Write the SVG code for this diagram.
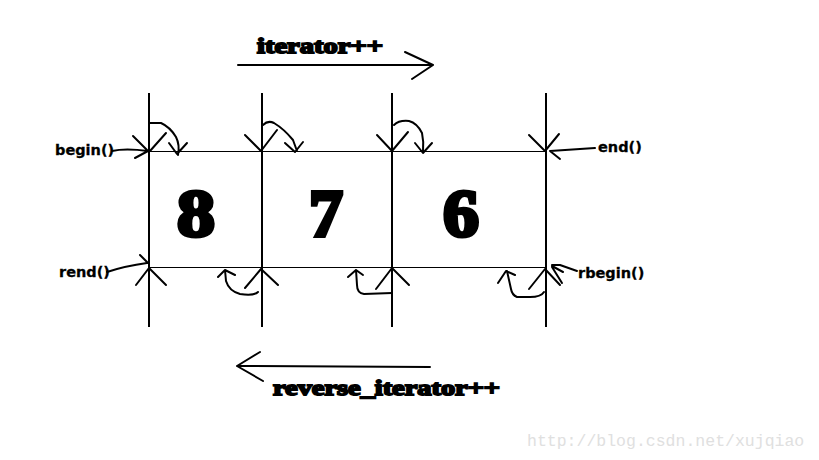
<svg xmlns="http://www.w3.org/2000/svg" width="819" height="460" viewBox="0 0 819 460">
<style>
.v{stroke:#000;stroke-width:2;fill:none}
.h{stroke:#000;stroke-width:1;fill:none}
.hd{stroke:#000;stroke-width:2;fill:none;stroke-linecap:round;stroke-linejoin:round}
.lbl{font-family:"DejaVu Sans",sans-serif;font-weight:bold;font-size:14.5px;fill:#000;stroke:#000;stroke-width:0.3}
.fat{font-family:"Liberation Serif",serif;font-weight:bold;fill:#000;stroke:#000}
.dig{font-family:"Liberation Serif",serif;font-weight:bold;font-size:68px;fill:#000;stroke:#000;stroke-width:4;text-anchor:middle}
.wm{font-family:"Liberation Mono",monospace;font-size:16.5px;fill:#e0e0e0}
</style>
<rect width="819" height="460" fill="#fff"/>
<g id="grid">
<line class="v" x1="149" y1="93" x2="149" y2="327"/>
<line class="v" x1="262" y1="93" x2="262" y2="327"/>
<line class="v" x1="392" y1="93" x2="392" y2="327"/>
<line class="v" x1="546" y1="93" x2="546" y2="327"/>
<line class="h" x1="149" y1="151.5" x2="546" y2="151.5"/>
<line class="h" x1="149" y1="267.5" x2="546" y2="267.5"/>
</g>
<g id="cell-8"><text class="dig" x="196" y="236" textLength="38" lengthAdjust="spacingAndGlyphs">8</text></g>
<g id="cell-7"><text class="dig" x="326" y="236">7</text></g>
<g id="cell-6"><text class="dig" x="461" y="236" textLength="36" lengthAdjust="spacingAndGlyphs">6</text></g>
<g id="label-iterator">
<text class="fat" x="257" y="53" font-size="22" stroke-width="1.8" textLength="126" lengthAdjust="spacingAndGlyphs">iterator++</text>
</g>
<g id="label-reverse">
<text class="fat" x="273" y="395" font-size="22" stroke-width="1.8" textLength="227" lengthAdjust="spacingAndGlyphs">reverse_iterator++</text>
</g>
<g id="label-begin"><text class="lbl" x="55" y="155">begin()</text></g>
<g id="label-end"><text class="lbl" x="598" y="152">end()</text></g>
<g id="label-rend"><text class="lbl" x="59" y="277">rend()</text></g>
<g id="label-rbegin"><text class="lbl" x="578" y="278">rbegin()</text></g>
<g id="watermark"><text class="wm" x="527" y="446">http://blog.csdn.net/xujqiao</text></g>
<g id="connectors">
<path class="hd" d="M238 65 L433 65 M405 52 L433 65 L412 79" stroke-width="2.5"/>
<path class="hd" d="M430 367 L237 366 M260 352 L237 366 L263 381" stroke-width="2.5"/>
<path class="hd" d="M112 151 Q125 148 148 151 M133 136 L148 151 L135 158"/>
<path class="hd" d="M166 133 L150 151"/>
<path class="hd" d="M150 123 L161 123 Q170 127 176 137 Q180 145 178 155 M169 143 L177 154 L187 143"/>
<path class="hd" d="M245 135 L261 151 L277 130"/>
<path class="hd" d="M263 125 Q268 120 274 123 Q284 129 293 140 L297 151 M285 143 L295 152 L303 142"/>
<path class="hd" d="M377 135 L392 151 L408 132"/>
<path class="hd" d="M394 125 Q399 120 409 121 Q417 123 422 133 Q424 142 423 152 M415 143 L423 153 L432 143"/>
<path class="hd" d="M529 135 L545 151 L559 134"/>
<path class="hd" d="M595 148 L550 151 M550 151 L560 159"/>
<path class="hd" d="M107 272 Q125 266 147 263 M140 255 L148 263"/>
<path class="hd" d="M136 285 L149 268 L166 285"/>
<path class="hd" d="M245 288 L261 269 L278 285"/>
<path class="hd" d="M258 292 Q254 296 240 294 Q229 291 226 281 L225 270 M218 277 L225 270 L235 275"/>
<path class="hd" d="M376 289 L392 268 L409 285"/>
<path class="hd" d="M392 293 L364 294 Q357 293 357 285 L356 270 M348 277 L356 270 L363 275"/>
<path class="hd" d="M529 289 L545 269 L560 285"/>
<path class="hd" d="M544 292 Q541 297 530 297 L517 297 Q512 295 511 289 L507 271 M498 283 L506 271 L515 275"/>
<path class="hd" d="M577 271 L560 265 L552 265 M552 266 L563 272 M552 267 L562 283"/>
</g>
</svg>
